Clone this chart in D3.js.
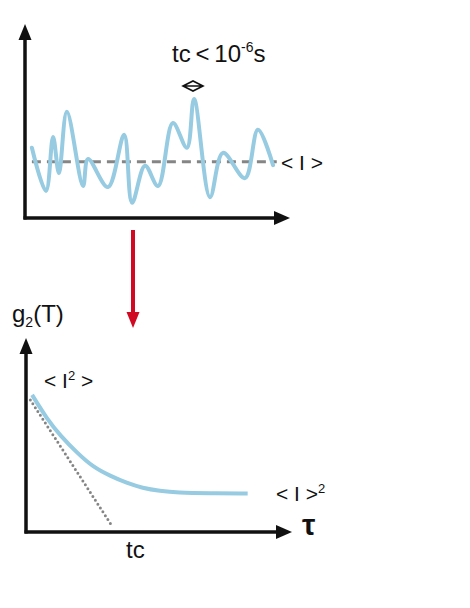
<!DOCTYPE html>
<html>
<head>
<meta charset="utf-8">
<script src="https://cdnjs.cloudflare.com/ajax/libs/d3/7.8.5/d3.min.js"></script>
<style>
  body { margin: 0; background: #fff; }
  text { font-family: "Liberation Sans", Arial, sans-serif; fill: #111; }
</style>
</head>
<body>
<div id="chart-area"></div>
<script>
// Top panel: fluctuating intensity I(t), mean <I> = 1
var signalT = [2.6, 7.9, 10.6, 12.8, 15.8, 21.9, 23.8, 31.3, 37.4, 40.4, 45.3, 50.2, 55.8, 61.1, 63.8, 69.8, 74.7, 83.0, 87.9, 93.6];
var signalI = [1.25, 0.48, 1.44, 0.80, 1.89, 0.57, 1.05, 0.55, 1.48, 0.27, 0.93, 0.57, 1.69, 1.25, 2.12, 0.37, 1.16, 0.71, 1.57, 0.94];
var meanI = 1;
var meanRange = [2.6, 95];

// Bottom panel: correlation g2(tau), tau in units of tc
var tau = [0.07, 0.25, 0.39, 0.59, 0.77, 0.97, 1.16, 1.34, 1.54, 1.74, 2.11, 2.55];
var g2 = [7.14, 5.83, 5.05, 4.11, 3.39, 2.92, 2.55, 2.29, 2.14, 2.05, 2.02, 2.01];
var slopeTau = [0.05, 0.99];
var slopeG = [6.88, 0.31];

var width = 470, height = 608;

var svg = d3.select("#chart-area")
  .append("svg")
  .attr("width", width)
  .attr("height", height);

var blue = "#96cbe1";
var grey = "#858585";

/* ---------- top panel ---------- */
var xTop = d3.scaleLinear().domain([0, 100]).range([25, 290]);
var yTop = d3.scaleLinear().domain([0, 3.4]).range([218, 27]);

var topG = svg.append("g");

// mean line
topG.append("line")
  .attr("x1", xTop(meanRange[0]))
  .attr("x2", xTop(meanRange[1]))
  .attr("y1", yTop(meanI))
  .attr("y2", yTop(meanI))
  .attr("stroke", grey)
  .attr("stroke-width", 3)
  .attr("stroke-dasharray", "9,6");

var sigLine = d3.line()
  .x(function(d, i){ return xTop(signalT[i]); })
  .y(function(d){ return yTop(d); })
  .curve(d3.curveCatmullRom.alpha(0.5));

topG.append("path")
  .attr("d", sigLine(signalI))
  .attr("fill", "none")
  .attr("stroke", blue)
  .attr("stroke-width", 4)
  .attr("stroke-linejoin", "round")
  .attr("stroke-linecap", "round");

// axes
topG.append("line")
  .attr("x1", xTop(0)).attr("x2", xTop(0))
  .attr("y1", yTop(0) + 1.5).attr("y2", yTop(3.4) + 12)
  .attr("stroke", "#111").attr("stroke-width", 3.5);
topG.append("line")
  .attr("x1", xTop(0) - 1.5).attr("x2", xTop(100) - 12)
  .attr("y1", yTop(0)).attr("y2", yTop(0))
  .attr("stroke", "#111").attr("stroke-width", 3.5);
topG.append("path")
  .attr("d", "M" + xTop(0) + "," + (yTop(3.4) - 3) + "l-6.5,16h13z")
  .attr("fill", "#111");
topG.append("path")
  .attr("d", "M" + xTop(100) + "," + yTop(0) + "l-16,-7v14z")
  .attr("fill", "#111");

// labels
var tcLab = topG.append("text")
  .attr("x", 172).attr("y", 62)
  .attr("font-size", 24);
tcLab.append("tspan").text("tc\u2009<\u200910");
tcLab.append("tspan").attr("font-size", 14).attr("dy", -10).text("-6");
tcLab.append("tspan").attr("dy", 10).text("s");

topG.append("path")
  .attr("d", "M183,86 L193,81 L203,86 L193,91 Z M183,86 H203")
  .attr("fill", "none")
  .attr("stroke", "#111")
  .attr("stroke-width", 1.6);

topG.append("text")
  .attr("x", 281).attr("y", 170)
  .attr("font-size", 21)
  .text("< I >");

/* ---------- red arrow ---------- */
svg.append("line")
  .attr("x1", 133).attr("x2", 133)
  .attr("y1", 230).attr("y2", 314)
  .attr("stroke", "#cf0a22").attr("stroke-width", 4);
svg.append("path")
  .attr("d", "M133,328 l-6.5,-16 h13 z")
  .attr("fill", "#cf0a22");

/* ---------- bottom panel ---------- */
var xBot = d3.scaleLinear().domain([0, 3.06]).range([26, 292]);
var yBot = d3.scaleLinear().domain([0, 10]).range([532, 340]);

var botG = svg.append("g");

botG.append("line")
  .attr("x1", xBot(slopeTau[0])).attr("x2", xBot(slopeTau[1]))
  .attr("y1", yBot(slopeG[0])).attr("y2", yBot(slopeG[1]))
  .attr("stroke", grey)
  .attr("stroke-width", 3)
  .attr("stroke-linecap", "round")
  .attr("stroke-dasharray", "0,4.6");

var g2Line = d3.line()
  .x(function(d, i){ return xBot(tau[i]); })
  .y(function(d){ return yBot(d); })
  .curve(d3.curveBasis);

botG.append("path")
  .attr("d", g2Line(g2))
  .attr("fill", "none")
  .attr("stroke", blue)
  .attr("stroke-width", 4);

botG.append("line")
  .attr("x1", xBot(0)).attr("x2", xBot(0))
  .attr("y1", yBot(0) + 1.5).attr("y2", yBot(10) + 12)
  .attr("stroke", "#111").attr("stroke-width", 3.5);
botG.append("line")
  .attr("x1", xBot(0) - 1.5).attr("x2", xBot(3.06) - 12)
  .attr("y1", yBot(0)).attr("y2", yBot(0))
  .attr("stroke", "#111").attr("stroke-width", 3.5);
botG.append("path")
  .attr("d", "M" + xBot(0) + "," + (yBot(10) - 2) + "l-6.5,16h13z")
  .attr("fill", "#111");
botG.append("path")
  .attr("d", "M" + xBot(3.06) + "," + yBot(0) + "l-16,-7v14z")
  .attr("fill", "#111");

var gLab = botG.append("text")
  .attr("x", 12).attr("y", 322)
  .attr("font-size", 24);
gLab.append("tspan").text("g");
gLab.append("tspan").attr("font-size", 14).attr("dy", 5).text("2");
gLab.append("tspan").attr("dy", -5).text("(T)");

var i2Lab = botG.append("text")
  .attr("x", 44).attr("y", 388)
  .attr("font-size", 21);
i2Lab.append("tspan").text("< I");
i2Lab.append("tspan").attr("font-size", 13).attr("dy", -8).text("2");
i2Lab.append("tspan").attr("dy", 8).text(" >");

var isqLab = botG.append("text")
  .attr("x", 276).attr("y", 501)
  .attr("font-size", 21);
isqLab.append("tspan").text("< I >");
isqLab.append("tspan").attr("font-size", 13).attr("dy", -8).text("2");

botG.append("text")
  .attr("x", 302).attr("y", 535)
  .attr("font-size", 30)
  .attr("font-weight", "bold")
  .attr("font-family", "DejaVu Serif, serif")
  .text("\u03c4");

botG.append("text")
  .attr("x", 126).attr("y", 558)
  .attr("font-size", 24)
  .text("tc");
</script>
</body>
</html>
